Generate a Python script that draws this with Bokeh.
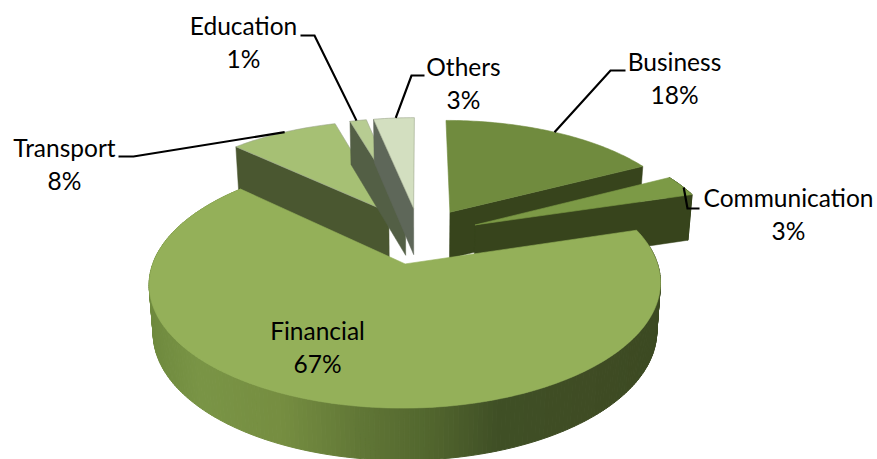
import numpy as np
from bokeh.plotting import figure
from bokeh.models import Range1d
from bokeh.core.properties import value
from bokeh.embed import file_html
from bokeh.resources import INLINE

categories = ["Business", "Communication", "Financial", "Transport", "Education", "Others"]
percent_labels = ["18%", "3%", "67%", "8%", "1%", "3%"]
shares = [17.3, 3, 66.7, 8.5, 1.3, 3.2]

top_colors = ["#708B3E", "#7C9A46", "#94B059", "#A6C074", "#B7CC92", "#D3DFC0"]
wall_colors = ["#37441C", "#37441C", "#3F4C24", "#4A5730", "#535F45", "#5E6759"]
wall_side = [1, 1, None, 0, 0, 0]   # which radial edge shows its wall: 0 start, 1 end
outer_wall = [False, True, True, False, False, False]

label_x = [674, 788, 317, 64, 243, 463]
label_y = [61, 197, 330, 147, 25, 66]
leader_elbow = [(610, 70), (687, 208), None, (133, 156), (314, 35), (411, 75)]
leader_end = [(625, 70), (699, 208), None, (118, 156), (300, 35), (424, 75)]
leader_frac = [0.5, 0.6, None, 0.52, 0.45, 0.5]

CX, CY, A, B, K, EXPL, DEPTH, BOTTOM_SHRINK = 419, 235, 243, 112.4, 0.153, 0.25, 47, 0.985


def project(X, Y):
    w = 1 + K * Y
    return CX + A * X / w, CY - B * Y / w


def project_bottom(X, Y):
    w = 1 + K * Y
    sx, sy = project(X, Y)
    return CX + (sx - CX) * BOTTOM_SHRINK, sy + DEPTH / np.sqrt(w)


grad_x = [148, 197, 280, 363, 430, 497, 597, 660]
grad_rgb = [(0x6F, 0x8A, 0x3E), (0x7A, 0x95, 0x46), (0x76, 0x8E, 0x41), (0x60, 0x76, 0x36),
            (0x52, 0x66, 0x2E), (0x40, 0x50, 0x26), (0x3F, 0x4C, 0x24), (0x3C, 0x4A, 0x22)]


def grad(x):
    c = [int(np.interp(x, grad_x, [g[i] for g in grad_rgb])) for i in range(3)]
    return "#%02x%02x%02x" % tuple(c)


p = figure(width=877, height=459, output_backend="svg", toolbar_location=None,
           x_range=Range1d(0, 877), y_range=Range1d(459, 0), min_border=0)
p.axis.visible = False
p.grid.visible = False
p.outline_line_color = None
p.background_fill_color = "white"
p.border_fill_color = "white"

total = float(sum(shares))
edges = np.concatenate([[0], np.cumsum(shares)]) / total * 2 * np.pi
order = [3, 4, 5, 0, 1, 2]
arc_points = {}

for i in order:
    a0, a1 = edges[i], edges[i + 1]
    mid = (a0 + a1) / 2
    ox, oy = EXPL * np.sin(mid), EXPL * np.cos(mid)
    t = np.linspace(a0, a1, max(6, int((a1 - a0) * 60)))
    X, Y = ox + np.sin(t), oy + np.cos(t)
    tx, ty = project(X, Y)
    bx, by = project_bottom(X, Y)
    ax, ay = project(ox, oy)
    abx, aby = project_bottom(ox, oy)
    arc_points[i] = (t, tx, ty)

    if outer_wall[i]:
        xs, ys, cs = [], [], []
        for j in range(len(t) - 1):
            xs.append([tx[j], tx[j + 1], bx[j + 1], bx[j]])
            ys.append([ty[j], ty[j + 1], by[j + 1], by[j]])
            cs.append(grad((tx[j] + tx[j + 1]) / 2) if i == 2 else wall_colors[i])
        p.patches(xs, ys, fill_color=cs, line_color=cs, line_width=1)

    if wall_side[i] is not None:
        k = 0 if wall_side[i] == 0 else -1
        p.patch([ax, tx[k], bx[k], abx], [ay, ty[k], by[k], aby],
                fill_color=wall_colors[i], line_color=wall_colors[i], line_width=0.5)

    p.patch([ax] + list(tx), [ay] + list(ty), fill_color=top_colors[i],
            line_color="#9aa58a" if i in (3, 4, 5) else top_colors[i], line_width=0.6)

for i in range(len(categories)):
    if leader_elbow[i] is None:
        continue
    t, tx, ty = arc_points[i]
    k = int(round(leader_frac[i] * (len(t) - 1)))
    p.line([tx[k], leader_elbow[i][0], leader_end[i][0]],
           [ty[k], leader_elbow[i][1], leader_end[i][1]],
           line_color="black", line_width=2.2, line_join="miter")

font = value("Lato")
p.text(label_x, label_y, text=categories, text_font=font, text_font_size="24.5px",
       text_align="center", text_baseline="middle", text_color="black")
p.text(label_x, [y + 33 for y in label_y], text=percent_labels, text_font=font,
       text_font_size="24.5px", text_align="center", text_baseline="middle", text_color="black")

open("out.html", "w").write(file_html(p, INLINE))
